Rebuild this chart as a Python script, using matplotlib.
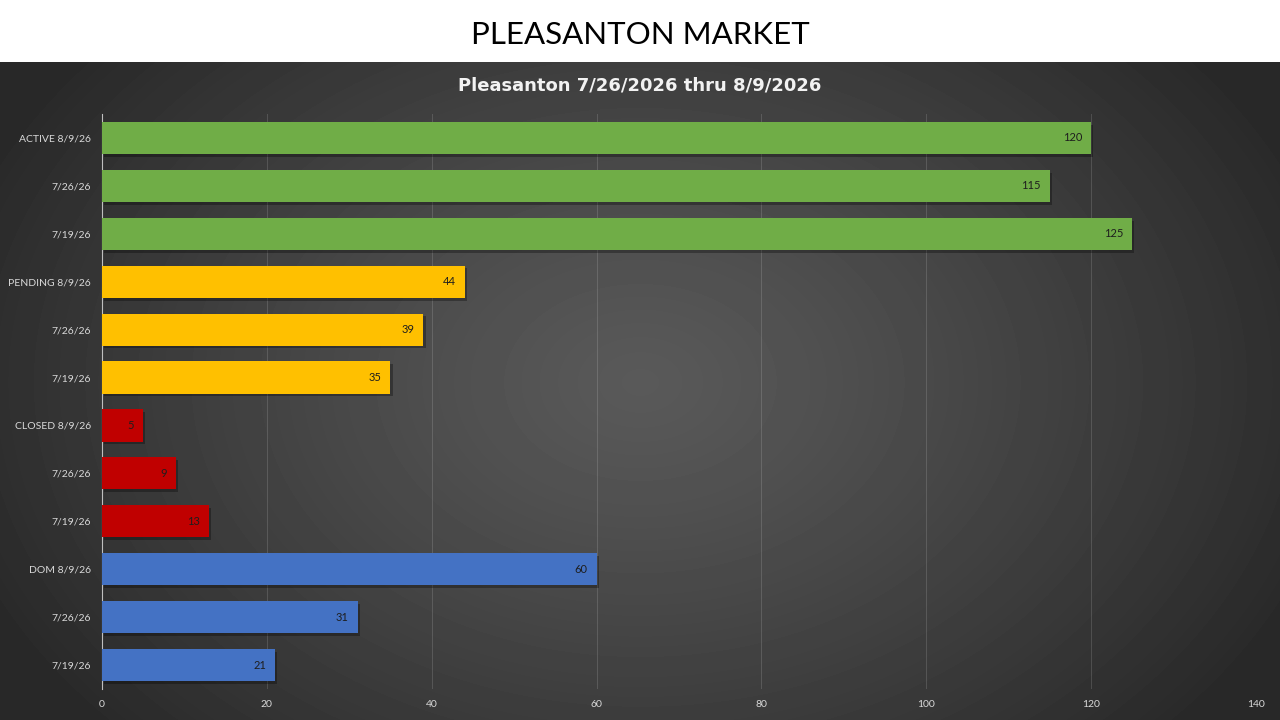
import numpy as np
import matplotlib
matplotlib.use("Agg")
import matplotlib.pyplot as plt
import matplotlib.patheffects as pe

labels = ["ACTIVE 8/9/26", "7/26/26", "7/19/26",
          "PENDING 8/9/26", "7/26/26", "7/19/26",
          "CLOSED 8/9/26", "7/26/26", "7/19/26",
          "DOM 8/9/26", "7/26/26", "7/19/26"]
values = [120, 115, 125, 44, 39, 35, 5, 9, 13, 60, 31, 21]
groups = ["active"] * 3 + ["pending"] * 3 + ["closed"] * 3 + ["dom"] * 3
group_colors = {"active": "#70AD47", "pending": "#FFC000",
                "closed": "#C00000", "dom": "#4472C4"}
x_ticks = [0, 20, 40, 60, 80, 100, 120, 140]

plt.rcParams["font.family"] = ["Lato", "DejaVu Sans"]

fig = plt.figure(figsize=(12.8, 7.2), dpi=100, facecolor="white")

# dark panel with a radial gradient
band = 62 / 720
bg = fig.add_axes([0, 0, 1, 1 - band])
yy, xx = np.mgrid[0:658, 0:1280]
r = np.sqrt(((xx - 640) / 720) ** 2 + ((yy - 320) / 520) ** 2)
shade = 0.35 - 0.19 * np.clip(r, 0, 1) ** 1.2
bg.imshow(shade, cmap="gray", vmin=0, vmax=1, aspect="auto",
          extent=[0, 1, 0, 1], interpolation="bilinear")
bg.set_axis_off()

fig.text(0.5, 1 - 35 / 720, "PLEASANTON MARKET", ha="center", va="center",
         fontsize=22.5, color="black")
fig.text(0.5, 1 - 85 / 720, "Pleasanton 7/26/2026 thru 8/9/2026",
         ha="center", va="center", fontsize=13, fontweight="bold",
         color="#F2F2F2", family=["DejaVu Sans"])

ax = fig.add_axes([102 / 1280, 1 - 689 / 720, (1256 - 102) / 1280, (689 - 114) / 720])
ax.set_facecolor("none")

pos = np.arange(len(values))
colors = [group_colors[g] for g in groups]
bars = ax.barh(pos, values, height=0.67, color=colors, zorder=3)
for b in bars:
    b.set_path_effects([pe.SimplePatchShadow(offset=(1.5, -2), alpha=0.3, shadow_rgbFace="black"),
                        pe.Normal()])

for b, v in zip(bars, values):
    ax.text(b.get_width() - 1.1, b.get_y() + b.get_height() / 2, str(v),
            ha="right", va="center", fontsize=8, color="#1E1E1E", zorder=4)

ax.set_ylim(len(values) - 0.5, -0.5)
ax.set_xlim(0, 140)
ax.set_yticks(pos)
ax.set_yticklabels(labels)
ax.set_xticks(x_ticks)
ax.tick_params(axis="both", length=0, colors="#D9D9D9", labelsize=7.5)
ax.tick_params(axis="y", pad=8)
ax.tick_params(axis="x", pad=8)
ax.grid(axis="x", color="white", alpha=0.14, linewidth=0.7, zorder=0)
for s in ["top", "right", "bottom"]:
    ax.spines[s].set_visible(False)
ax.spines["left"].set_color("#BFBFBF")
ax.spines["left"].set_linewidth(0.8)

plt.savefig("out.png", dpi=100)
plt.close()
